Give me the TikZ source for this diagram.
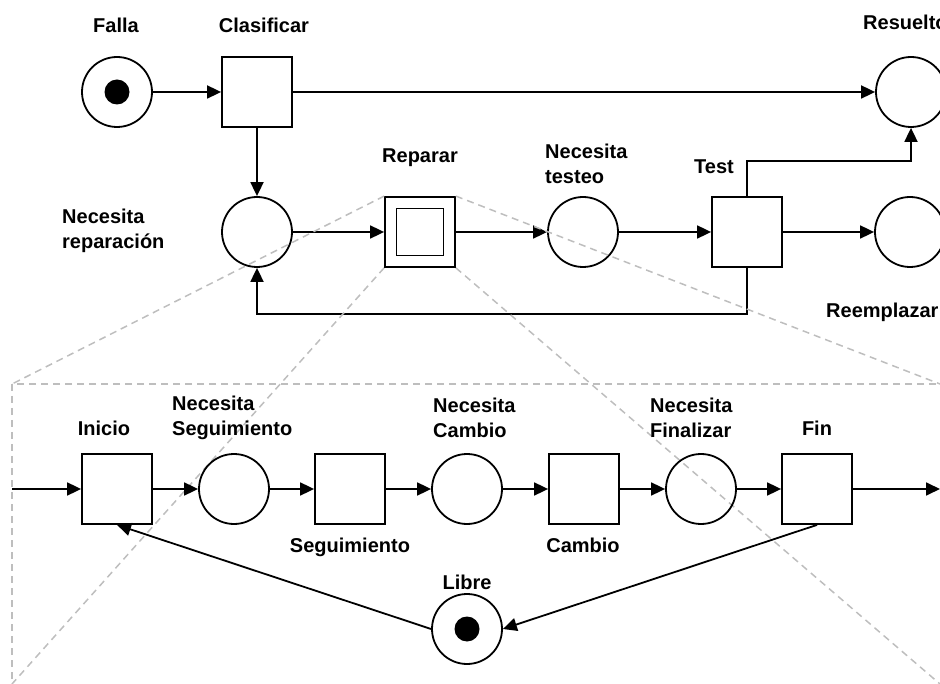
\documentclass[tikz,border=0pt]{standalone}
\usepackage{fontspec}
\setmainfont{Liberation Sans}
\usetikzlibrary{arrows.meta}
\definecolor{zoomgray}{RGB}{190,190,190}
\tikzset{
  place/.style={circle, draw, line width=1.8pt, minimum size=70pt, inner sep=0pt},
  trans/.style={rectangle, draw, line width=1.8pt, minimum size=70pt, inner sep=0pt},
  subtrans/.style={rectangle, draw, line width=1.8pt, minimum size=47pt, inner sep=0pt},
  lbl/.style={font=\fontsize{20}{25}\selectfont\bfseries, inner sep=0pt},
  lbll/.style={lbl, anchor=west, align=left},
  arc/.style={line width=1.8pt, -{Triangle[length=14pt,width=13pt]}},
  zoomline/.style={draw=zoomgray, line width=1.5pt, dash pattern=on 7pt off 5pt},
}
\begin{document}
\begin{tikzpicture}[x=1pt,y=-1pt]
\useasboundingbox (0,0) rectangle (940,684);
\clip (0,0) rectangle (940,684);

% ---- upper net ----
\node[place] (falla) at (117,92) {};
\node[trans] (clas) at (257,92) {};
\node[place] (res) at (911,92) {};
\node[place] (nrep) at (257,232) {};
\node[trans] (rep) at (420,232) {};
\node[subtrans] (repin) at (420,232) {};
\node[place] (ntest) at (583,232) {};
\node[trans] (test) at (747,232) {};
\node[place] (reem) at (910,232) {};

\fill (falla.center) circle (12.5);

\node[lbl] (lfalla) at (116,25) {Falla};
\node[lbl] (lclas) at (264,25) {Clasificar};
\node[lbl, anchor=west] (lres) at (863,22) {Resuelto};
\node[lbll] (lnrep) at (62,231) {Necesita\\reparación};
\node[lbl] (lrep) at (420,158) {Reparar};
\node[lbll] (lntest) at (545,164) {Necesita\\testeo};
\node[lbl] (ltest) at (714,167) {Test};
\node[lbl, anchor=west] (lreem) at (826,312) {Reemplazar};

\draw[arc] (falla) -- (clas);
\draw[arc] (clas) -- (res);
\draw[arc] (clas) -- (nrep);
\draw[arc] (nrep) -- (rep);
\draw[arc] (rep) -- (ntest);
\draw[arc] (ntest) -- (test);
\draw[arc] (test) -- (reem);
\draw[arc] (test.north) -- ++(0,-35) -| (res.south);
\draw[arc] (test.south) -- ++(0,46) -| (nrep.south);

% ---- expanded view of Reparar ----
\coordinate (ztl) at (12,384);
\coordinate (ztr) at (940,384);
\coordinate (zbl) at (12,684);
\coordinate (zbr) at (940,684);
\draw[zoomline] (ztl) rectangle (950,700);
\draw[zoomline] (rep.north west) -- (ztl);
\draw[zoomline] (rep.north east) -- (ztr);
\draw[zoomline] (rep.south west) -- (zbl);
\draw[zoomline] (rep.south east) -- (zbr);

\node[trans] (ini) at (117,489) {};
\node[place] (nseg) at (234,489) {};
\node[trans] (seg) at (350,489) {};
\node[place] (ncam) at (467,489) {};
\node[trans] (cam) at (584,489) {};
\node[place] (nfin) at (701,489) {};
\node[trans] (fin) at (817,489) {};
\node[place] (libre) at (467,629) {};
\fill (libre.center) circle (12.5);

\coordinate (entra) at (12,489);
\coordinate (sale) at (940,489);

\node[lbl] (lini) at (104,428) {Inicio};
\node[lbll] (lnseg) at (172,417.5) {Necesita\\Seguimiento};
\node[lbl] (lseg) at (350,547) {Seguimiento};
\node[lbll] (lncam) at (433,417.5) {Necesita\\Cambio};
\node[lbl] (lcam) at (583,545) {Cambio};
\node[lbll] (lnfin) at (650,417.5) {Necesita\\Finalizar};
\node[lbl] (lfin) at (817,428) {Fin};
\node[lbl] (llibre) at (467,582) {Libre};

\draw[arc] (entra) -- (ini);
\draw[arc] (ini) -- (nseg);
\draw[arc] (nseg) -- (seg);
\draw[arc] (seg) -- (ncam);
\draw[arc] (ncam) -- (cam);
\draw[arc] (cam) -- (nfin);
\draw[arc] (nfin) -- (fin);
\draw[arc] (fin) -- (sale);
\draw[arc] (fin.south) -- (libre.east);
\draw[arc] (libre.west) -- (ini.south);
\end{tikzpicture}
\end{document}
